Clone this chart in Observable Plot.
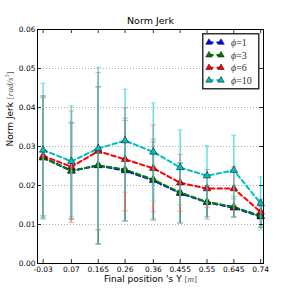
<!DOCTYPE html>
<html><head><meta charset="utf-8">
<script src="https://cdn.jsdelivr.net/npm/d3@7"></script>
<script src="https://cdn.jsdelivr.net/npm/@observablehq/plot@0.6"></script>
<style>
html,body{margin:0;padding:0;background:#fff;}
#wrap{position:relative;width:293px;height:293px;overflow:hidden;}
#legend{position:absolute;left:202px;top:33px;}
</style></head>
<body><div id="wrap"></div>
<script>
// ---- data ----
const xPositions = [-0.03, 0.07, 0.165, 0.26, 0.36, 0.455, 0.55, 0.645, 0.74];
const xTickLabels = ["-0.03", "0.07", "0.165", "0.26", "0.36", "0.455", "0.55", "0.645", "0.74"];
const yTicks = [0, 0.01, 0.02, 0.03, 0.04, 0.05, 0.06];
const seriesNames = ["ϕ=1", "ϕ=3", "ϕ=6", "ϕ=10"];
const seriesColors = ["#0000ff", "#008000", "#ff0000", "#00bfbf"];
const barColors = ["#4d6cff", "#3c9a3c", "#ff5a5a", "#2fd6d6"];

const meanPhi1  = [0.0272, 0.0238, 0.0251, 0.0238, 0.0213, 0.0180, 0.0157, 0.0143, 0.0120];
const errPhi1   = [0.0158, 0.0124, 0.0202, 0.0129, 0.0099, 0.0077, 0.0043, 0.0023, 0.0026];
const meanPhi3  = [0.0271, 0.0237, 0.0252, 0.0241, 0.0215, 0.0182, 0.0158, 0.0145, 0.0122];
const errPhi3   = [0.0154, 0.0123, 0.0201, 0.0132, 0.0104, 0.0076, 0.0038, 0.0027, 0.0030];
const meanPhi6  = [0.0276, 0.0248, 0.0288, 0.0267, 0.0244, 0.0207, 0.0192, 0.0192, 0.0132];
const errPhi6   = [0.0153, 0.0143, 0.0202, 0.0132, 0.0111, 0.0073, 0.0049, 0.0056, 0.0033];
const meanPhi10 = [0.0291, 0.0262, 0.0295, 0.0315, 0.0286, 0.0246, 0.0225, 0.0239, 0.0154];
const errPhi10  = [0.0171, 0.0142, 0.0208, 0.0132, 0.0126, 0.0096, 0.0077, 0.0090, 0.0068];

const means = [meanPhi1, meanPhi3, meanPhi6, meanPhi10];
const errs = [errPhi1, errPhi3, errPhi6, errPhi10];

// ---- layout ----
const W = 293, H = 293, mL = 37, mR = 30, mT = 29, mB = 30;
const innerW = W - mL - mR, innerH = H - mT - mB;
const capSymbol = {draw(ctx, size) { const r = Math.sqrt(size / Math.PI); ctx.moveTo(-r, 0); ctx.lineTo(r, 0); }};

const seriesMarks = [];
seriesNames.forEach((name, s) => {
  const rows = xPositions.map((x, i) => ({x, y: means[s][i], e: errs[s][i]}));
  const c = seriesColors[s], bc = barColors[s];
  seriesMarks.push(
    Plot.line(rows, {x: "x", y: "y", stroke: c, strokeWidth: 2, strokeDasharray: "4.5,3"}),
    Plot.ruleX(rows, {x: "x", y1: d => d.y - d.e, y2: d => d.y + d.e, stroke: bc, strokeOpacity: 0.75, strokeWidth: 1.5}),
    Plot.dot(rows, {x: "x", y: d => d.y + d.e, symbol: capSymbol, r: 2.8, stroke: bc, strokeOpacity: 0.55, strokeWidth: 1}),
    Plot.dot(rows, {x: "x", y: d => d.y - d.e, symbol: capSymbol, r: 2.8, stroke: bc, strokeOpacity: 0.55, strokeWidth: 1}),
    Plot.dot(rows, {x: "x", y: "y", symbol: "triangle", r: 2.8, fill: c, stroke: "#000", strokeWidth: 0.5})
  );
});

const chart = Plot.plot({
  width: W, height: H,
  marginLeft: mL, marginRight: mR, marginTop: mT, marginBottom: mB,
  style: {fontFamily: "DejaVu Sans", fontSize: "7.5px", color: "#000", background: "#fff"},
  x: {type: "linear", domain: [-0.05, 0.75]},
  y: {type: "linear", domain: [0, 0.06]},
  marks: [
    Plot.gridY(yTicks, {stroke: "#000", strokeOpacity: 0.45, strokeDasharray: "1,2", strokeWidth: 0.7}),
    ...seriesMarks,
    Plot.frame({stroke: "#000", strokeWidth: 1}),
    Plot.ruleX(xPositions, {insetTop: innerH - 4, stroke: "#000", strokeWidth: 0.8}),
    Plot.ruleX(xPositions, {insetBottom: innerH - 4, stroke: "#000", strokeWidth: 0.8}),
    Plot.ruleY(yTicks, {insetRight: innerW - 4, stroke: "#000", strokeWidth: 0.8}),
    Plot.ruleY(yTicks, {insetLeft: innerW - 4, stroke: "#000", strokeWidth: 0.8}),
    Plot.axisX(xPositions, {tickSize: 0, tickPadding: 3, label: null, tickFormat: d => xTickLabels[xPositions.indexOf(d)], fontSize: 7.5}),
    Plot.axisY(yTicks, {tickSize: 0, tickPadding: 2, label: null, tickFormat: d => d.toFixed(2), fontSize: 7.5}),
    Plot.text(["Norm Jerk"], {frameAnchor: "top", dy: -6, lineAnchor: "bottom", fontSize: 9.5, text: d => d}),
    Plot.text(["XLABEL"], {frameAnchor: "bottom", dy: 16, lineAnchor: "middle", fontSize: 9, text: d => d}),
    Plot.text(["YLABEL"], {frameAnchor: "left", dx: -27, rotate: -90, lineAnchor: "middle", fontSize: 9, text: d => d})
  ]
});
document.getElementById("wrap").appendChild(chart);

// mixed-style axis labels (math parts in italic serif)
d3.select(chart).selectAll("text").each(function() {
  const t = d3.select(this);
  if (this.textContent === "XLABEL") {
    t.text(null);
    t.append("tspan").text("Final position 's Y ");
    t.append("tspan").attr("font-family", "Liberation Serif").attr("fill", "#555").text("[");
    t.append("tspan").attr("font-family", "Liberation Serif").attr("font-style", "italic").attr("fill", "#555").text("m");
    t.append("tspan").attr("font-family", "Liberation Serif").attr("fill", "#555").text("]");
  } else if (this.textContent === "YLABEL") {
    t.text(null);
    t.append("tspan").text("Norm Jerk ");
    t.append("tspan").attr("font-family", "Liberation Serif").attr("fill", "#555").text("[");
    t.append("tspan").attr("font-family", "Liberation Serif").attr("font-style", "italic").attr("fill", "#555").text("rad/s");
    t.append("tspan").attr("font-family", "Liberation Serif").attr("fill", "#555").attr("font-size", 6).attr("dy", -4).text("3");
    t.append("tspan").attr("font-family", "Liberation Serif").attr("fill", "#555").attr("dy", 4).text("]");
  }
});

// legend box
const lg = d3.select("#wrap").append("svg").attr("id", "legend").attr("width", 58).attr("height", 57);
lg.append("rect").attr("x", 0.75).attr("y", 0.75).attr("width", 56).attr("height", 55)
  .attr("fill", "#fff").attr("stroke", "#333").attr("stroke-width", 1.5);
const tri = d3.symbol(d3.symbolTriangle, 18)();
seriesNames.forEach((name, s) => {
  const cy = 9.5 + s * 12.6;
  const c = seriesColors[s];
  const g = lg.append("g");
  g.append("line").attr("x1", 7).attr("x2", 19).attr("y1", cy).attr("y2", cy)
    .attr("stroke", c).attr("stroke-width", 2).attr("stroke-dasharray", "4.5,3");
  [7, 19].forEach(x => g.append("path").attr("d", tri).attr("transform", `translate(${x},${cy})`)
    .attr("fill", c).attr("stroke", "#000").attr("stroke-width", 0.5));
  const [phi, val] = name.split("=");
  const tx = g.append("text").attr("x", 29).attr("y", cy + 3.5).attr("font-family", "Liberation Serif")
    .attr("font-size", 10).attr("fill", "#333");
  tx.append("tspan").attr("font-style", "italic").text(phi);
  tx.append("tspan").text("=" + val);
});
</script>
</body></html>
